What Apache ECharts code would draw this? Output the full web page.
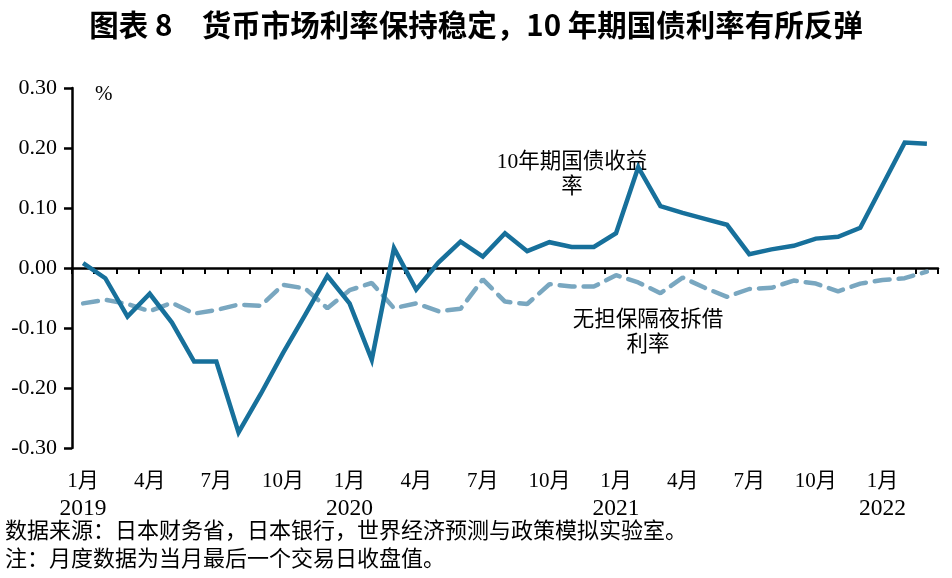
<!DOCTYPE html>
<html>
<head>
<meta charset="utf-8">
<script src="https://cdn.jsdelivr.net/npm/echarts@6/dist/echarts.min.js"></script>
<style>
  html, body { margin: 0; padding: 0; background: #fff; }
  #chart-div { width: 952px; height: 578px; }
</style>
</head>
<body>
<div id="chart-div"></div>
<script>
// kuukaudet 2019/1 - 2022/3
const months = [
  '2019-01','2019-02','2019-03','2019-04','2019-05','2019-06','2019-07','2019-08','2019-09','2019-10','2019-11','2019-12',
  '2020-01','2020-02','2020-03','2020-04','2020-05','2020-06','2020-07','2020-08','2020-09','2020-10','2020-11','2020-12',
  '2021-01','2021-02','2021-03','2021-04','2021-05','2021-06','2021-07','2021-08','2021-09','2021-10','2021-11','2021-12',
  '2022-01','2022-02','2022-03'
]

// 10年期国债收益率 (%)
const jgb10y = [
  0.008, -0.017, -0.081, -0.043, -0.091, -0.156, -0.156, -0.274, -0.210, -0.142, -0.078, -0.013,
  -0.059, -0.153, 0.033, -0.036, 0.009, 0.044, 0.019, 0.058, 0.028, 0.043, 0.035, 0.035,
  0.058, 0.168, 0.103, 0.092, 0.082, 0.072, 0.023, 0.031, 0.037, 0.049, 0.052, 0.067,
  0.138, 0.209, 0.207
]

// 无担保隔夜拆借利率 (%)
const callRate = [
  -0.059, -0.053, -0.060, -0.072, -0.058, -0.076, -0.070, -0.061, -0.063, -0.028, -0.034, -0.067,
  -0.037, -0.025, -0.067, -0.059, -0.072, -0.068, -0.019, -0.056, -0.060, -0.027, -0.031, -0.031,
  -0.012, -0.024, -0.042, -0.016, -0.033, -0.048, -0.035, -0.033, -0.021, -0.026, -0.039, -0.026,
  -0.020, -0.017, -0.006
]

const yTicks = [-0.30, -0.20, -0.10, 0.00, 0.10, 0.20, 0.30]

const serif = 'Liberation Serif, "Noto Sans CJK SC", serif'
const cjk = '"Noto Sans CJK SC", "Liberation Serif", sans-serif'

// x-akselin teksti: kuukausi, tammikuussa myös vuosi
function monthLabel(value) {
  const parts = value.split('-')
  const m = parseInt(parts[1], 10)
  if (m === 1) {
    return '{m|' + m + '月}\n{y|' + parts[0] + '}'
  }
  return '{m|' + m + '月}'
}

let myChart = echarts.init(document.getElementById('chart-div'))

const option = {
  animation: false,
  backgroundColor: '#fff',
  title: {
    text: '图表 8　货币市场利率保持稳定，10 年期国债利率有所反弹',
    left: 'center',
    top: 5,
    textStyle: {
      fontFamily: cjk,
      fontSize: 29.5,
      fontWeight: 'bold',
      color: '#000'
    }
  },
  grid: {
    left: 72,
    right: 14,
    top: 88,
    bottom: 130
  },
  xAxis: [
    {
      type: 'category',
      data: months,
      boundaryGap: true,
      axisLine: { onZero: true, lineStyle: { color: '#000', width: 2.5 } },
      axisTick: { show: true, interval: 0, length: 6, lineStyle: { color: '#000', width: 2 } },
      axisLabel: { show: false },
      splitLine: { show: false }
    },
    {
      type: 'category',
      data: months,
      position: 'bottom',
      boundaryGap: true,
      axisLine: { show: false, onZero: false },
      axisTick: { show: false },
      axisLabel: {
        interval: function (i) { return i % 3 === 0 },
        margin: 19,
        formatter: monthLabel,
        color: '#000',
        rich: {
          m: { fontFamily: serif, fontSize: 21, lineHeight: 28, color: '#000' },
          y: { fontFamily: serif, fontSize: 23.5, lineHeight: 28, color: '#000' }
        }
      },
      splitLine: { show: false }
    }
  ],
  yAxis: {
    type: 'value',
    min: yTicks[0],
    max: yTicks[yTicks.length - 1],
    interval: 0.1,
    axisLine: { show: true, lineStyle: { color: '#000', width: 2.5 } },
    axisTick: { show: true, length: 8, lineStyle: { color: '#000', width: 2.5 } },
    axisLabel: {
      margin: 15,
      fontFamily: serif,
      fontSize: 22,
      color: '#000',
      formatter: function (v) { return v.toFixed(2) }
    },
    splitLine: { show: false }
  },
  series: [
    {
      name: '无担保隔夜拆借利率',
      type: 'line',
      data: callRate,
      symbol: 'none',
      lineStyle: { color: '#79a7c0', width: 4.5, type: [15, 9], cap: 'round' }
    },
    {
      name: '10年期国债收益率',
      type: 'line',
      data: jgb10y,
      symbol: 'none',
      lineStyle: { color: '#17709b', width: 4.5, join: 'miter' }
    }
  ],
  graphic: [
    { type: 'text', left: 95, top: 84, style: { text: '%', font: '21px ' + serif, fill: '#000' } },
    { type: 'text', x: 572, y: 162, style: { text: '10年期国债收益', font: '21.5px ' + serif, fill: '#000', align: 'center', verticalAlign: 'middle' } },
    { type: 'text', x: 572, y: 187, style: { text: '率', font: '21.5px ' + serif, fill: '#000', align: 'center', verticalAlign: 'middle' } },
    { type: 'text', x: 648, y: 320, style: { text: '无担保隔夜拆借', font: '21.5px ' + serif, fill: '#000', align: 'center', verticalAlign: 'middle' } },
    { type: 'text', x: 648, y: 345, style: { text: '利率', font: '21.5px ' + serif, fill: '#000', align: 'center', verticalAlign: 'middle' } },
    { type: 'text', x: 5, y: 530, style: { text: '数据来源：日本财务省，日本银行，世界经济预测与政策模拟实验室。', font: '22px ' + cjk, fill: '#000', verticalAlign: 'middle' } },
    { type: 'text', x: 5, y: 558, style: { text: '注：月度数据为当月最后一个交易日收盘值。', font: '22px ' + cjk, fill: '#000', verticalAlign: 'middle' } }
  ]
}

myChart.setOption(option)
</script>
</body>
</html>
